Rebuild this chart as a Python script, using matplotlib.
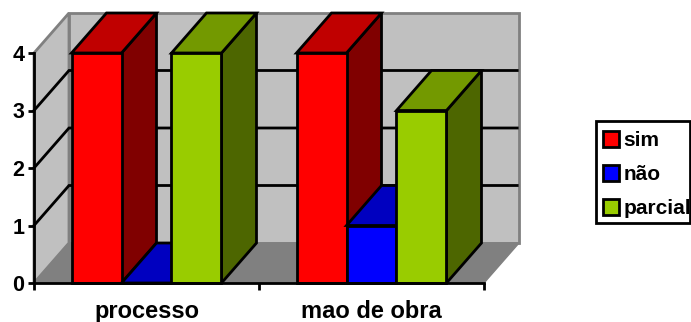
#!/usr/bin/env python3
"""Oblique 3D-style clustered bars: sim / nao / parcial per category."""
import matplotlib

matplotlib.use("Agg")

import matplotlib.pyplot as plt  # noqa: E402
import numpy as np  # noqa: E402
from matplotlib.patches import Patch, Polygon, Rectangle  # noqa: E402

plt.rcParams["font.family"] = ["Liberation Sans", "DejaVu Sans"]
plt.rcParams["font.weight"] = "bold"

categories = ["processo", "mao de obra"]
series_names = ["sim", "não", "parcial"]
sim = [4, 4]
nao = [0, 1]
parcial = [4, 3]
yticks = [0, 1, 2, 3, 4]

W, H = 691, 322
X0, X1, Y0, Y4 = 34, 484, 283, 53   # plot box in pixels
BAR_W = 0.2222
DX = 35 / ((X1 - X0) / 2)           # depth shift, x data units
DY = 40 / ((Y0 - Y4) / 4)           # depth shift, y data units
LW = 2.0

FRONT = ["#ff0000", "#0000ff", "#99cc00"]
TOP = ["#c00000", "#0000c0", "#739900"]
SIDE = ["#800000", "#000080", "#4d6600"]
WALL = "#c0c0c0"
FLOOR = "#808080"

fig = plt.figure(figsize=(W / 100, H / 100), dpi=100)
ax = fig.add_axes([X0 / W, 1 - Y0 / H, (X1 - X0) / W, (Y0 - Y4) / H])
ax.set_xlim(0, 2)
ax.set_ylim(0, 4)
ax.patch.set_visible(False)
ax.spines["top"].set_visible(False)
ax.spines["right"].set_visible(False)
for s in ("left", "bottom"):
    ax.spines[s].set_linewidth(LW)


def quad(pts, fc, ec, lw, z):
    ax.add_patch(Polygon(pts, closed=True, fc=fc, ec=ec, lw=lw, zorder=z,
                         clip_on=False, joinstyle="miter"))


# walls and floor
quad([(0, 0), (DX, DY), (DX, 4 + DY), (0, 4)], WALL, FLOOR, 2.0, 1)
quad([(DX, DY), (2 + DX, DY), (2 + DX, 4 + DY), (DX, 4 + DY)], WALL, FLOOR, 2.0, 1)
quad([(0, 0), (2, 0), (2 + DX, DY), (DX, DY)], FLOOR, FLOOR, 1.0, 1.1)

# gridlines run across the left wall and then along the back wall
for v in yticks[1:-1]:
    ax.plot([0, DX, 2 + DX - 0.008], [v, v + DY, v + DY], color="k", lw=LW,
            zorder=1.2, clip_on=False, solid_joinstyle="miter")

# bars, left to right so each one covers its neighbour's side face
z = 2.0
for cat in range(len(categories)):
    for i, vals in enumerate([sim, nao, parcial]):
        v = vals[cat]
        x = cat + 0.5 + (i - 1.5) * BAR_W
        quad([(x + BAR_W, 0), (x + BAR_W + DX, DY), (x + BAR_W + DX, v + DY), (x + BAR_W, v)],
             SIDE[i], "k", LW, z)
        quad([(x, v), (x + BAR_W, v), (x + BAR_W + DX, v + DY), (x + DX, v + DY)],
             TOP[i], "k", LW, z + 0.01)
        ax.bar(x, v, BAR_W, align="edge", color=FRONT[i], edgecolor="k", lw=LW,
               zorder=z + 0.02, clip_on=False)
        z += 0.1

ax.set_yticks(yticks)
ax.tick_params(axis="y", length=4, width=LW, labelsize=15.5, pad=3)
ax.set_xticks(np.arange(len(categories) + 1))
ax.set_xticklabels([])
ax.tick_params(axis="x", which="major", length=5, width=LW)
ax.set_xticks(np.arange(len(categories)) + 0.5, labels=categories, minor=True)
ax.tick_params(axis="x", which="minor", length=0, labelsize=17, pad=12)
for spine in ax.spines.values():
    spine.set_zorder(5)

# legend frame is drawn separately so it can sit tight against the text
fig.add_artist(Rectangle((596 / W, 1 - 223 / H), 94 / W, 102 / H, transform=fig.transFigure,
                         fc="white", ec="k", lw=LW))
handles = [Patch(fc=c, ec="k", lw=LW) for c in FRONT]
leg = fig.legend(handles, series_names, loc="upper left",
                 bbox_to_anchor=(603 / W, 1 - 131 / H), borderaxespad=0, borderpad=0,
                 fontsize=15, frameon=False,
                 handlelength=0.77, handleheight=0.77, handletextpad=0.2,
                 labelspacing=0.72)
leg.set_zorder(6)

fig.savefig("out.png", dpi=100)
plt.close(fig)
